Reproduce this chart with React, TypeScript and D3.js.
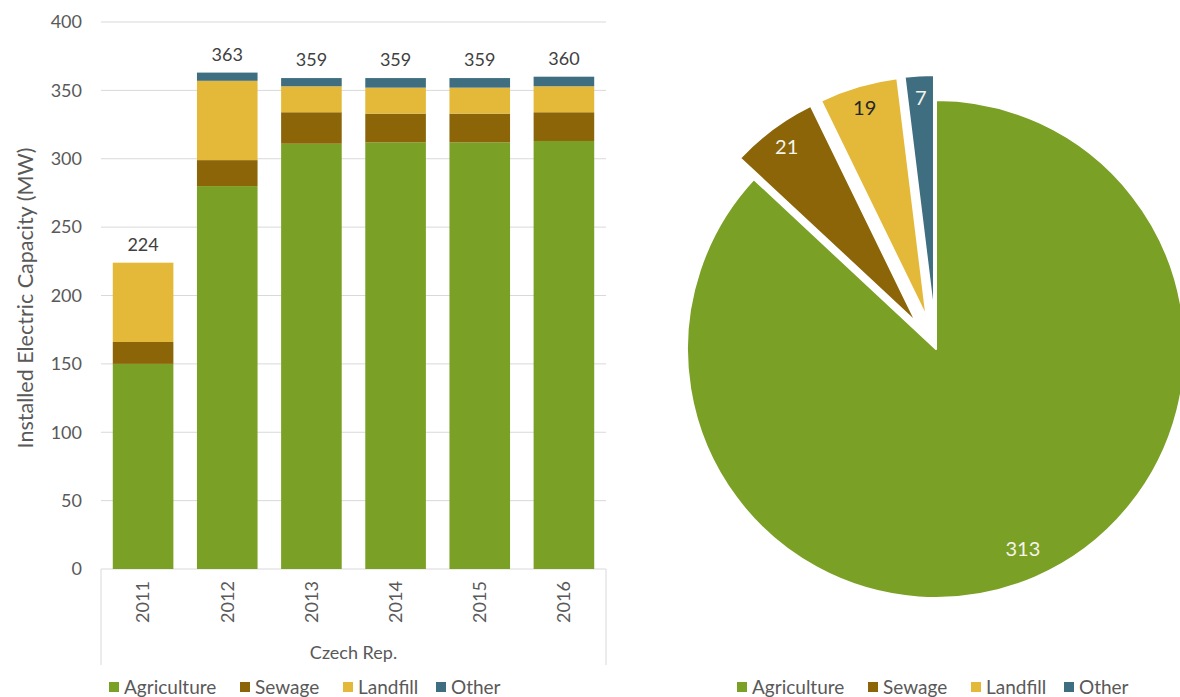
import React from 'react';
import * as d3 from 'd3';

// Installed biogas electric capacity, Czech Republic (MW)
const years = ['2011', '2012', '2013', '2014', '2015', '2016'];
const seriesNames = ['Agriculture', 'Sewage', 'Landfill', 'Other'];
const agriculture = [150, 280, 311, 312, 312, 313];
const sewage = [16, 19, 23, 21, 21, 21];
const landfill = [58, 58, 19, 19, 19, 19];
const other = [0, 6, 6, 7, 7, 7];
const yTicks = [0, 50, 100, 150, 200, 250, 300, 350, 400];
const groupLabel = 'Czech Rep.';
const yTitle = 'Installed Electric Capacity (MW)';

// 2016 breakdown
const pieValues = [313, 21, 19, 7];

const colors = ['#7AA025', '#8B6508', '#E4B93A', '#3E6E80'];
const pieLabelColors = ['#F4F4EC', '#F4F4EC', '#262626', '#F4F4EC'];

const FONT = 'Lato, "Open Sans", sans-serif';

const W = 1180;
const H = 697;

// bar chart frame
const plotLeft = 101;
const plotRight = 606;
const plotTop = 22;
const plotBottom = 569;

// pie frame
const pieCx = 936;
const pieCy = 349;
const pieR = 249;
const explodedR = 241;
const explodeDist = 33;
const labelR = 218;

function Legend({ x, y }: { x: number; y: number }) {
  const offsets = [0, 131, 234, 327];
  return (
    <g transform={`translate(${x},${y})`}>
      {seriesNames.map((name, i) => (
        <g key={name} transform={`translate(${offsets[i]},0)`}>
          <rect x={-15} y={-12} width={10} height={10} fill={colors[i]} />
          <text x={0} y={0} fontSize={19} fill="#595959" fontFamily={FONT}>
            {name}
          </text>
        </g>
      ))}
    </g>
  );
}

function BarChart() {
  const x = d3.scaleBand<string>().domain(years).range([plotLeft, plotRight]).paddingInner(0.28).paddingOuter(0.14);
  const y = d3.scaleLinear().domain([0, 400]).range([plotBottom, plotTop]);

  const rows = years.map((yr, i) => ({
    year: yr,
    Agriculture: agriculture[i],
    Sewage: sewage[i],
    Landfill: landfill[i],
    Other: other[i],
  }));
  const stacked = d3.stack<any>().keys(seriesNames)(rows);

  return (
    <g>
      {yTicks.map((t) => (
        <g key={t}>
          <line x1={plotLeft} x2={plotRight} y1={y(t)} y2={y(t)} stroke="#D9D9D9" strokeWidth={1} />
          <text x={plotLeft - 19} y={y(t)} dy="0.35em" textAnchor="end" fontSize={18} fill="#595959" fontFamily={FONT}>
            {t}
          </text>
        </g>
      ))}
      {/* category axis frame */}
      <line x1={plotLeft} x2={plotLeft} y1={plotBottom} y2={665} stroke="#D9D9D9" strokeWidth={1} />
      <line x1={plotRight} x2={plotRight} y1={plotBottom} y2={665} stroke="#D9D9D9" strokeWidth={1} />

      {stacked.map((layer, si) => (
        <g key={layer.key} fill={colors[si]}>
          {layer.map((d, i) => {
            const h = y(d[0]) - y(d[1]);
            if (h <= 0) return null;
            return <rect key={i} x={x(years[i])} y={y(d[1])} width={x.bandwidth()} height={h} />;
          })}
        </g>
      ))}

      {years.map((yr, i) => {
        const total = agriculture[i] + sewage[i] + landfill[i] + other[i];
        const cx = (x(yr) as number) + x.bandwidth() / 2;
        return (
          <g key={yr}>
            <text x={cx} y={y(total) - 12} textAnchor="middle" fontSize={18} fill="#404040" fontFamily={FONT}>
              {total}
            </text>
            <text
              transform={`translate(${cx},602) rotate(-90)`}
              textAnchor="middle"
              dy="0.35em"
              fontSize={18}
              fill="#595959"
              fontFamily={FONT}
            >
              {yr}
            </text>
          </g>
        );
      })}

      <text x={(plotLeft + plotRight) / 2} y={653} dy="0.35em" textAnchor="middle" fontSize={18} fill="#595959" fontFamily={FONT}>
        {groupLabel}
      </text>
      <text
        transform={`translate(25,298) rotate(-90)`}
        textAnchor="middle"
        dy="0.35em"
        fontSize={21.5}
        fill="#595959"
        fontFamily={FONT}
      >
        {yTitle}
      </text>
      <Legend x={124} y={694} />
    </g>
  );
}

function PieChart() {
  const arcs = d3.pie<number>().sort(null).value((d) => d)(pieValues);
  return (
    <g>
      {arcs.map((a, i) => {
        const mid = (a.startAngle + a.endAngle) / 2;
        const dist = i === 0 ? 0 : explodeDist;
        const r = i === 0 ? pieR : explodedR;
        const ox = pieCx + dist * Math.sin(mid);
        const oy = pieCy - dist * Math.cos(mid);
        const path = d3.arc<any>().innerRadius(0).outerRadius(r)(a) as string;
        const lx = labelR * Math.sin(mid);
        const ly = -labelR * Math.cos(mid);
        return (
          <g key={i} transform={`translate(${ox},${oy})`}>
            <path d={path} fill={colors[i]} stroke="#FFFFFF" strokeWidth={2} strokeLinejoin="round" />
            <text x={lx} y={ly} dy="0.35em" textAnchor="middle" fontSize={20} fill={pieLabelColors[i]} fontFamily={FONT}>
              {a.data}
            </text>
          </g>
        );
      })}
      <Legend x={752} y={694} />
    </g>
  );
}

export default function App() {
  return (
    <svg
      width={W}
      height={H}
      viewBox={`0 0 ${W} ${H}`}
      style={{ position: 'absolute', left: 0, top: 0, background: '#FFFFFF' }}
    >
      <rect x={0} y={0} width={W} height={H} fill="#FFFFFF" />
      <BarChart />
      <PieChart />
    </svg>
  );
}
